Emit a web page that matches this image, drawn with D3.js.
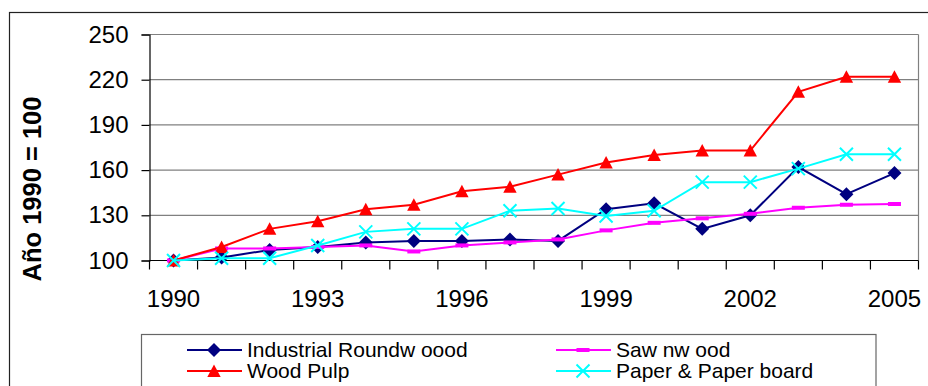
<!DOCTYPE html>
<html>
<head>
<meta charset="utf-8">
<script src="https://cdn.jsdelivr.net/npm/d3@7"></script>
<style>
  html, body { margin: 0; padding: 0; background: #fff; }
  svg { display: block; font-family: "Liberation Sans", Arial, sans-serif; }
</style>
</head>
<body>
<svg id="chart" width="928" height="386"></svg>
<script>
const years = ["1990","1991","1992","1993","1994","1995","1996","1997","1998","1999","2000","2001","2002","2003","2004","2005"];
const xTickLabels = ["1990","1993","1996","1999","2002","2005"];
const yTicks = [100, 130, 160, 190, 220, 250];
const yLabel = "Año 1990 = 100";

const industrialRoundwood = [100, 102, 107, 109, 112, 113, 113, 114, 113, 134, 138, 121, 130, 162, 144, 158];
const sawnwood            = [100, 108, 108, 109, 110, 106, 110, 112, 114, 120, 125, 128, 131, 135, 137, 137.5];
const woodPulp            = [100, 109, 121, 126, 134, 137, 146, 149, 157, 165, 170, 173, 173, 212, 222, 222];
const paperBoard          = [100, 101.5, 101.5, 110, 119, 121, 121, 133, 134.5, 129.5, 133, 152, 152, 161, 170.5, 170.5];

const seriesNames = ["Industrial Roundw oood", "Saw nw ood", "Wood Pulp", "Paper & Paper board"];
const seriesValues = [industrialRoundwood, sawnwood, woodPulp, paperBoard];
const seriesColors = ["#000080", "#FF00FF", "#FF0000", "#00FFFF"];
const seriesMarkers = ["diamond", "dash", "triangle", "x"];

const svg = d3.select("#chart");

// outer chart border
svg.append("rect").attr("x", 9.5).attr("y", 12.5).attr("width", 930).attr("height", 400)
  .attr("fill", "none").attr("stroke", "#222").attr("stroke-width", 1.2);

const plot = { left: 149.5, right: 918.5, top: 34.5, bottom: 260.5 };
const x = d3.scaleBand().domain(years).range([plot.left, plot.right]).padding(0);
const y = d3.scaleLinear().domain([100, 250]).range([plot.bottom, plot.top]);

// gridlines
svg.append("g").selectAll("line").data(yTicks.filter(d => d > 100)).join("line")
  .attr("x1", plot.left).attr("x2", plot.right)
  .attr("y1", d => y(d)).attr("y2", d => y(d))
  .attr("stroke", "#808080").attr("stroke-width", 1.2);
// right border
svg.append("line").attr("x1", plot.right).attr("x2", plot.right)
  .attr("y1", plot.top).attr("y2", plot.bottom)
  .attr("stroke", "#808080").attr("stroke-width", 1.2);

// y axis
const yAxis = d3.axisLeft(y).tickValues(yTicks).tickSize(8).tickPadding(13).tickFormat(d3.format("d"));
const gy = svg.append("g").attr("transform", `translate(${plot.left},0)`).call(yAxis);
gy.select(".domain").attr("stroke", "#000").attr("stroke-width", 1.2);
gy.selectAll(".tick line").attr("stroke", "#000").attr("stroke-width", 1.2);
gy.selectAll(".tick text").attr("font-size", 24).attr("fill", "#000")
  .attr("font-family", "Liberation Sans, Arial, sans-serif");

// x axis: ticks at category boundaries
const boundaries = years.map(d => x(d)).concat([plot.right]);
const gx = svg.append("g");
gx.append("line").attr("x1", plot.left).attr("x2", plot.right)
  .attr("y1", plot.bottom).attr("y2", plot.bottom).attr("stroke", "#000").attr("stroke-width", 1.2);
gx.selectAll("line.tk").data(boundaries).join("line").attr("class", "tk")
  .attr("x1", d => d).attr("x2", d => d).attr("y1", plot.bottom).attr("y2", plot.bottom + 9)
  .attr("stroke", "#000").attr("stroke-width", 1.2);
gx.selectAll("text").data(xTickLabels).join("text")
  .attr("x", d => x(d) + x.bandwidth() / 2).attr("y", 306.5)
  .attr("text-anchor", "middle").attr("font-size", 24).attr("fill", "#000").text(d => d);

// y label
svg.append("text").attr("transform", "translate(41,189) rotate(-90)")
  .attr("text-anchor", "middle").attr("font-size", 25.5).attr("font-weight", "bold")
  .attr("fill", "#000").text(yLabel);

function drawMarker(g, type, color) {
  if (type === "diamond") {
    g.append("path").attr("d", "M0,-7L7,0L0,7L-7,0Z").attr("fill", color);
  } else if (type === "triangle") {
    g.append("path").attr("d", "M0,-6.5L6.7,6L-6.7,6Z").attr("fill", color);
  } else if (type === "dash") {
    g.append("rect").attr("x", -6.5).attr("y", -2).attr("width", 13).attr("height", 4).attr("fill", color);
  } else if (type === "x") {
    g.append("path").attr("d", "M-6.5,-6.5L6.5,6.5M-6.5,6.5L6.5,-6.5")
      .attr("stroke", color).attr("stroke-width", 2).attr("fill", "none");
  }
}

const cx = d => x(d) + x.bandwidth() / 2;
const line = d3.line().x((d, i) => cx(years[i])).y(d => y(d));

seriesValues.forEach((vals, si) => {
  const g = svg.append("g");
  g.append("path").datum(vals).attr("d", line)
    .attr("fill", "none").attr("stroke", seriesColors[si]).attr("stroke-width", 2);
  vals.forEach((v, i) => {
    const m = g.append("g").attr("transform", `translate(${cx(years[i])},${y(v)})`);
    drawMarker(m, seriesMarkers[si], seriesColors[si]);
  });
});

// legend
svg.append("rect").attr("x", 141.5).attr("y", 334.5).attr("width", 734.5).attr("height", 80)
  .attr("fill", "#fff").attr("stroke", "#666").attr("stroke-width", 1.2);
const legendPos = [
  { x: 187, y: 350 }, { x: 556, y: 350 },
  { x: 187, y: 371 }, { x: 556, y: 371 }
];
seriesNames.forEach((name, si) => {
  const p = legendPos[si];
  const g = svg.append("g");
  g.append("line").attr("x1", p.x).attr("x2", p.x + 55).attr("y1", p.y).attr("y2", p.y)
    .attr("stroke", seriesColors[si]).attr("stroke-width", 2);
  const m = g.append("g").attr("transform", `translate(${p.x + 27},${p.y})`);
  drawMarker(m, seriesMarkers[si], seriesColors[si]);
  g.append("text").attr("x", p.x + 60).attr("y", p.y + 7).attr("font-size", 21)
    .attr("fill", "#000").text(name);
});
</script>
</body>
</html>
